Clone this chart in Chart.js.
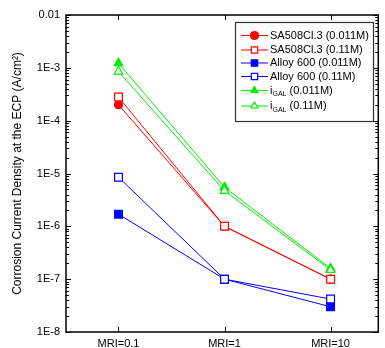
<!DOCTYPE html>
<html>
<head>
<meta charset="utf-8">
<script src="https://cdn.jsdelivr.net/npm/chart.js@4.4.0/dist/chart.umd.min.js"></script>
<style>
  body { margin: 0; background: #fff; }
  #wrap { width: 385px; height: 348px; }
</style>
</head>
<body>
<div id="wrap"><canvas id="chart" width="385" height="348"></canvas></div>
<script>
// data
const categories = ['MRI=0.1', 'MRI=1', 'MRI=10'];
const sa508Low = [2.0e-4, 1.0e-6, 1.0e-7];
const sa508High = [2.8e-4, 1.0e-6, 1.0e-7];
const alloyLow = [1.7e-6, 1.0e-7, 3.0e-8];
const alloyHigh = [8.5e-6, 1.0e-7, 4.2e-8];
const igalLow = [1.22e-3, 5.5e-6, 1.6e-7];
const igalHigh = [8.5e-4, 4.7e-6, 1.5e-7];
const seriesLabels = ['SA508Cl.3 (0.011M)', 'SA508Cl.3 (0.11M)', 'Alloy 600 (0.011M)',
    'Alloy 600 (0.11M)', 'i_{GAL} (0.011M)', 'i_{GAL} (0.11M)'];
const yTickValues = [1e-2, 1e-3, 1e-4, 1e-5, 1e-6, 1e-7, 1e-8];
const yTickLabels = ['0.01', '1E-3', '1E-4', '1E-5', '1E-6', '1E-7', '1E-8'];

const RED = '#ff0000', BLUE = '#0000ff', GREEN = '#00ee00';
const FONT = '"Liberation Sans", Arial, sans-serif';

function toPoints(arr) {
    return arr.map((v, i) => ({ x: i, y: v }));
}

function makeSet(label, values, color, style, filled, order) {
    return {
        label: label,
        data: toPoints(values),
        borderColor: color,
        backgroundColor: filled ? color : '#fff',
        pointBackgroundColor: filled ? color : '#fff',
        pointBorderColor: color,
        pointStyle: style,
        pointRadius: style === 'rect' ? 5.5 : (style === 'triangle' ? 5 : 4),
        pointBorderWidth: 1.2,
        borderWidth: 1,
        order: order,
        _filled: filled
    };
}

const datasets = [
    makeSet(seriesLabels[0], sa508Low, RED, 'circle', true, 1),
    makeSet(seriesLabels[1], sa508High, RED, 'rect', false, 0),
    makeSet(seriesLabels[2], alloyLow, BLUE, 'rect', true, 1),
    makeSet(seriesLabels[3], alloyHigh, BLUE, 'rect', false, 0),
    makeSet(seriesLabels[4], igalLow, GREEN, 'triangle', true, 1),
    makeSet(seriesLabels[5], igalHigh, GREEN, 'triangle', false, 0)
];

// frame, inward ticks and minor log ticks
const framePlugin = {
    id: 'frame',
    afterDatasetsDraw(chart) {
        const ctx = chart.ctx;
        const a = chart.chartArea;
        const xs = chart.scales.x, ys = chart.scales.y;
        ctx.save();
        ctx.strokeStyle = '#000';
        ctx.lineWidth = 1.5;
        ctx.strokeRect(a.left, a.top, a.right - a.left, a.bottom - a.top);
        ctx.lineWidth = 1;
        ctx.beginPath();
        yTickValues.forEach(v => {
            const y = Math.round(ys.getPixelForValue(v)) + 0.5;
            ctx.moveTo(a.left, y); ctx.lineTo(a.left + 5, y);
            ctx.moveTo(a.right, y); ctx.lineTo(a.right - 5, y);
        });
        for (let e = -8; e < -2; e++) {
            for (let m = 2; m <= 9; m++) {
                const y = Math.round(ys.getPixelForValue(m * Math.pow(10, e))) + 0.5;
                ctx.moveTo(a.left, y); ctx.lineTo(a.left + 3, y);
                ctx.moveTo(a.right, y); ctx.lineTo(a.right - 3, y);
            }
        }
        categories.forEach((c, i) => {
            const x = Math.round(xs.getPixelForValue(i)) + 0.5;
            ctx.moveTo(x, a.bottom); ctx.lineTo(x, a.bottom - 5);
            ctx.moveTo(x, a.top); ctx.lineTo(x, a.top + 5);
        });
        ctx.stroke();
        ctx.restore();
    },
    afterDraw(chart) {
        // legend box inside the plot
        const ctx = chart.ctx;
        const bx = 235, by = 22, bw = 138, bh = 99;
        ctx.save();
        ctx.fillStyle = '#fff';
        ctx.fillRect(bx, by, bw, bh);
        ctx.strokeStyle = '#333';
        ctx.lineWidth = 1.2;
        ctx.strokeRect(bx + 0.5, by + 0.5, bw, bh);
        const rows = [35.5, 50, 63, 76.5, 90.5, 106];
        datasets.forEach((ds, i) => {
            const y = rows[i];
            ctx.strokeStyle = ds.borderColor;
            ctx.lineWidth = 1;
            ctx.beginPath();
            ctx.moveTo(241, y); ctx.lineTo(268, y);
            ctx.stroke();
            ctx.fillStyle = ds._filled ? ds.borderColor : '#fff';
            ctx.lineWidth = 1.2;
            Chart.helpers.drawPoint(ctx, {
                pointStyle: ds.pointStyle,
                radius: ds.pointStyle === 'rect' ? 4.5 : 4,
                borderWidth: 1.2,
                rotation: 0
            }, 254.5, y);
            // label, with _{...} as subscript
            ctx.fillStyle = '#000';
            ctx.textBaseline = 'middle';
            let x = 270;
            const parts = ds.label.split(/_\{|\}/);
            parts.forEach((p, k) => {
                if (k % 2 === 1) {
                    ctx.font = '7px ' + FONT;
                    ctx.fillText(p, x, y + 4);
                } else {
                    ctx.font = '11px ' + FONT;
                    ctx.fillText(p, x, y);
                }
                x += ctx.measureText(p).width;
            });
        });
        ctx.restore();
    }
};

new Chart(document.getElementById('chart'), {
    type: 'line',
    data: { datasets: datasets },
    options: {
        responsive: false,
        animation: false,
        layout: { padding: { top: 15, right: -4, left: 0, bottom: 0 } },
        plugins: { legend: { display: false }, tooltip: { enabled: false } },
        scales: {
            x: {
                type: 'linear',
                min: -0.495,
                max: 2.45,
                grid: { display: false, drawTicks: false, tickLength: 0 },
                border: { display: false },
                afterBuildTicks: s => { s.ticks = categories.map((c, i) => ({ value: i })); },
                afterFit: s => { s.height = 16; s.paddingRight = 0; },
                ticks: {
                    padding: 5,
                    color: '#000',
                    font: { family: FONT, size: 11 },
                    callback: v => categories[v]
                }
            },
            y: {
                type: 'logarithmic',
                min: 1e-8,
                max: 1e-2,
                grid: { display: false, drawTicks: false, tickLength: 0 },
                border: { display: false },
                afterBuildTicks: s => { s.ticks = yTickValues.map(v => ({ value: v })); },
                afterFit: s => { s.width = 66; },
                ticks: {
                    padding: 6,
                    autoSkip: false,
                    color: '#000',
                    font: { family: FONT, size: 11 },
                    callback: v => yTickLabels[yTickValues.indexOf(v)]
                },
                title: {
                    display: true,
                    text: 'Corrosion Current Density at the ECP (A/cm²)',
                    color: '#000',
                    font: { family: FONT, size: 12 },
                    padding: { top: 10, bottom: 0 }
                }
            }
        }
    },
    plugins: [framePlugin]
});
</script>
</body>
</html>
